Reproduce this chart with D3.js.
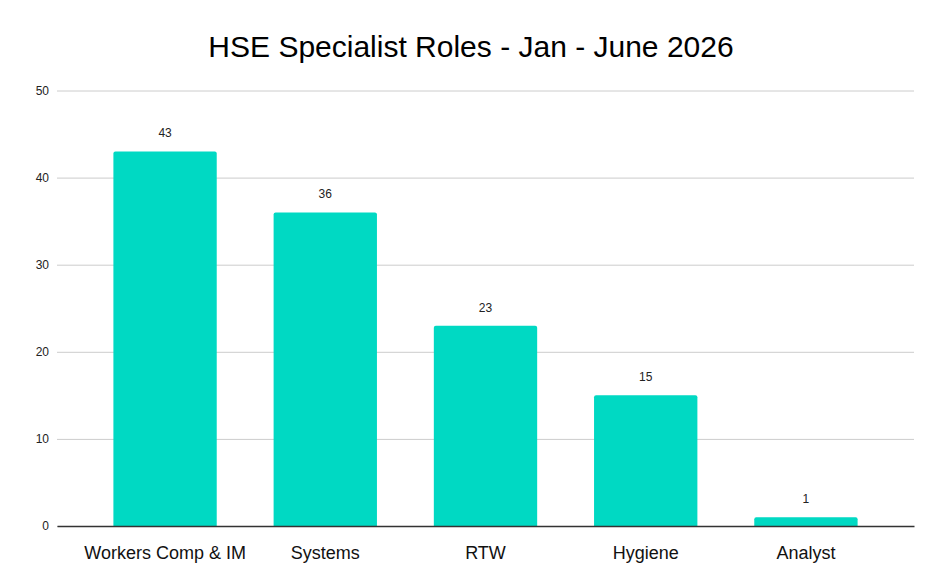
<!DOCTYPE html>
<html>
<head>
<meta charset="utf-8">
<script src="https://cdn.jsdelivr.net/npm/d3@7"></script>
<style>
  body { margin: 0; background: #fff; }
  text { font-family: "Liberation Sans", Arial, sans-serif; }
</style>
</head>
<body>
<svg id="chart" width="944" height="586"></svg>
<script>
var roles = ["Workers Comp & IM", "Systems", "RTW", "Hygiene", "Analyst"];
var counts = [43, 36, 23, 15, 1];
var yTicks = [0, 10, 20, 30, 40, 50];

var svg = d3.select("#chart");

var dims = { top: 90.5, bottom: 60, left: 57, right: 30 }; // plot box inside the svg
var width = 944 - dims.left - dims.right;
var height = 526 - dims.top;

var xScale = d3.scaleBand().domain(roles).range([0, width]).paddingInner(0.355).paddingOuter(0.352);
var yScale = d3.scaleLinear().domain([0, 50]).range([height, 0]);

svg.append("rect").attr("width", 944).attr("height", 586).attr("fill", "#fff");

svg
  .append("text")
  .text("HSE Specialist Roles - Jan - June 2026")
  .attr("x", 471)
  .attr("y", 57)
  .attr("text-anchor", "middle")
  .attr("font-size", 30)
  .attr("fill", "#000");

var elements = svg.append("g").attr("transform", "translate(" + dims.left + "," + dims.top + ")");

// gridlines + y labels
var yAxis = d3.axisLeft(yScale).tickValues(yTicks).tickSize(-width).tickPadding(8).tickFormat(d3.format("d"));
elements
  .append("g")
  .call(yAxis)
  .call((g) => g.select(".domain").remove())
  .call((g) => g.selectAll(".tick line").attr("stroke", "#cccccc").attr("stroke-width", 1))
  .call((g) => g.selectAll(".tick text").attr("font-size", 12).attr("fill", "#222").attr("font-family", "Liberation Sans, Arial, sans-serif"));

// bars with slightly rounded tops
var r = 2;
function barPath(d, i) {
  var x0 = xScale(roles[i]);
  var w = xScale.bandwidth();
  var y0 = yScale(d);
  var yb = yScale(0);
  return "M" + x0 + "," + yb +
    "V" + (y0 + r) + "Q" + x0 + "," + y0 + " " + (x0 + r) + "," + y0 +
    "H" + (x0 + w - r) + "Q" + (x0 + w) + "," + y0 + " " + (x0 + w) + "," + (y0 + r) +
    "V" + yb + "Z";
}

elements
  .selectAll(".bar")
  .data(counts)
  .enter()
  .append("path")
  .attr("class", "bar")
  .attr("d", barPath)
  .attr("fill", "#00d9c3");

elements
  .selectAll(".val")
  .data(counts)
  .enter()
  .append("text")
  .attr("class", "val")
  .text((d) => d)
  .attr("x", (d, i) => xScale(roles[i]) + xScale.bandwidth() / 2)
  .attr("y", (d) => yScale(d) - 14)
  .attr("text-anchor", "middle")
  .attr("font-size", 12)
  .attr("fill", "#222");

// x axis baseline + category labels
var xAxis = d3.axisBottom(xScale).tickSize(0).tickPadding(20);
elements
  .append("g")
  .attr("transform", "translate(0," + height + ")")
  .call(xAxis)
  .call((g) => g.select(".domain").attr("stroke", "#333").attr("stroke-width", 1.3))
  .call((g) => g.selectAll(".tick text").attr("font-size", 18).attr("fill", "#111").attr("font-family", "Liberation Sans, Arial, sans-serif"));
</script>
</body>
</html>
